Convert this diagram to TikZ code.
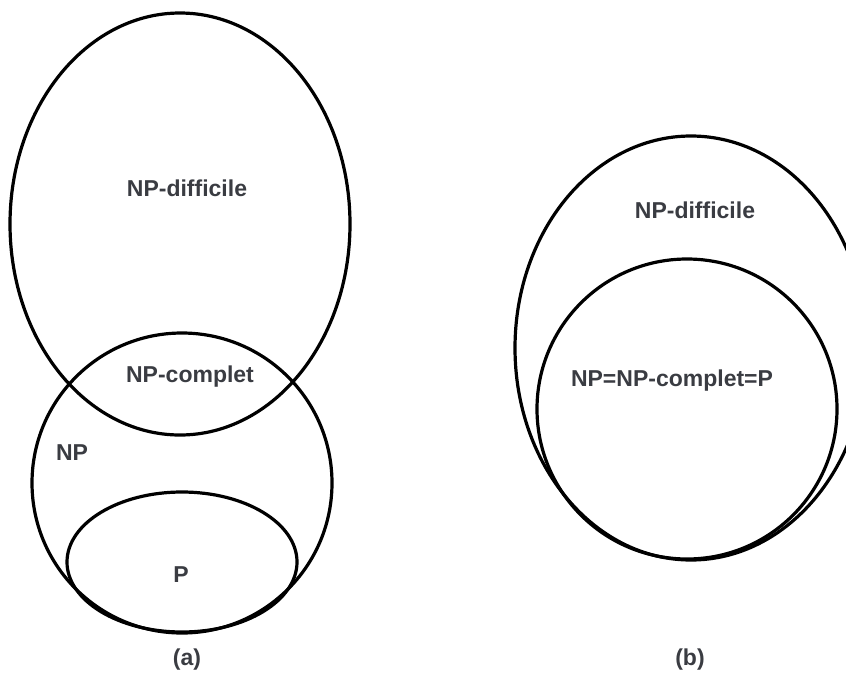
\documentclass[tikz,border=0pt]{standalone}
\usepackage{fontspec}
\setmainfont{Liberation Sans}
\definecolor{labelgray}{RGB}{58,60,66}
\begin{document}
\begin{tikzpicture}[x=1pt,y=-1pt,
  setline/.style={draw=black,line width=3.2pt},
  setlabel/.style={font=\fontsize{23}{27}\selectfont\bfseries,text=labelgray,inner sep=0pt}]
\useasboundingbox (0,0) rectangle (846,673);
\clip (0,0) rectangle (846,673);
% (a): P subset of NP, NP-hard overlapping NP
\draw[setline] (180,224) ellipse [x radius=170pt, y radius=211pt];
\draw[setline] (182,483) circle [radius=150pt];
\draw[setline] (182,562) ellipse [x radius=115pt, y radius=70pt];
\node[setlabel] (hardA) at (187,188) {NP-difficile};
\node[setlabel] (complA) at (190,377) {NP-complet};
\node[setlabel] (npA) at (72,453) {NP};
\node[setlabel] (pA) at (181,575) {P};
\node[setlabel] (capA) at (187,660) {(a)};
% (b): P = NP case
\draw[setline] (691,348) ellipse [x radius=176pt, y radius=212pt];
\draw[setline] (687,409) circle [radius=150pt];
\node[setlabel] (hardB) at (695,210) {NP-difficile};
\node[setlabel] (eqB) at (672,381) {NP=NP-complet=P};
\node[setlabel] (capB) at (690,660) {(b)};
\end{tikzpicture}
\end{document}
